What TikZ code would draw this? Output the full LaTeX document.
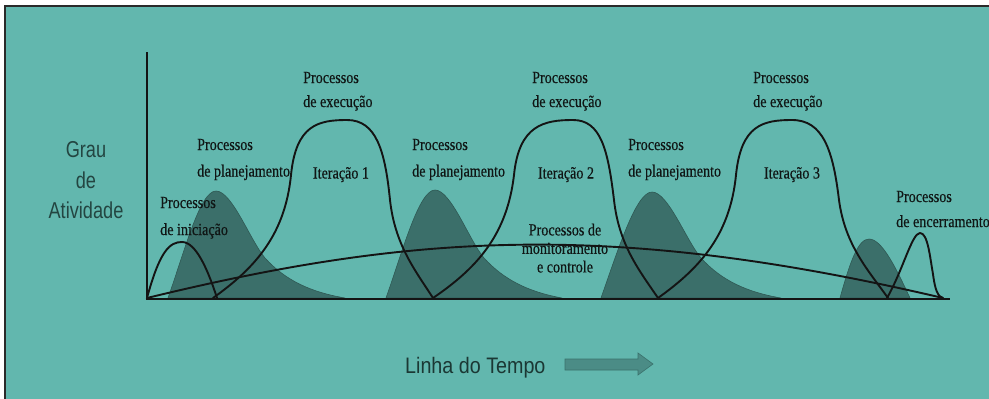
\documentclass[tikz,border=0pt]{standalone}
\usepackage{fontspec}
\setmainfont{Liberation Serif}
\newfontfamily\lblfont[FakeStretch=0.83,FakeBold=0.4]{Liberation Serif}
\newfontfamily\axfont[FakeStretch=0.79]{Liberation Sans}
\newfontfamily\tlfont[FakeStretch=0.88]{Liberation Sans}
\definecolor{bgteal}{HTML}{62B7AE}
\definecolor{humpcol}{HTML}{3B6F6A}
\definecolor{humpedge}{HTML}{2F5954}
\definecolor{framecol}{HTML}{2A2A2A}
\definecolor{txtcol}{HTML}{101615}
\definecolor{axtxt}{HTML}{234541}
\definecolor{tltxt}{HTML}{1B3834}
\definecolor{arrowcol}{HTML}{4B8C86}
\definecolor{arrowedge}{HTML}{3A716C}
\tikzset{
  hump/.style={fill=humpcol, draw=humpedge, line width=0.6pt},
  crv/.style={draw=black!92, line width=1.9pt, line join=round, line cap=round},
  axisline/.style={draw=black!92, line width=2.8pt},
  lbl/.style={font=\lblfont\fontsize{17}{24}\selectfont, text=txtcol, inner sep=0pt, align=left},
  axlbl/.style={font=\axfont\fontsize{23}{30.5}\selectfont, text=axtxt, inner sep=0pt, align=center},
  tllbl/.style={font=\tlfont\fontsize{22.4}{27}\selectfont, text=tltxt, inner sep=0pt}
}
\begin{document}
\begin{tikzpicture}[x=1pt,y=-1pt]
\useasboundingbox (0,0) rectangle (989,399);
\fill[white] (0,0) rectangle (989,399);
\fill[bgteal] (6,6) rectangle (989,399);
\draw[framecol, line width=2.5pt] (5,399) -- (5,6) -- (989,6);

% planning humps (filled)
\path[hump] (168,298) .. controls (185,250) and (200,191) .. (216,191)
  .. controls (232,191) and (250,240) .. (265,258)
  .. controls (285,280) and (310,292) .. (345,298) -- cycle;
\path[hump] (386,298) .. controls (403,250) and (419,190) .. (435,190)
  .. controls (451,190) and (469,240) .. (484,258)
  .. controls (504,280) and (529,292) .. (562,298) -- cycle;
\path[hump] (601,298) .. controls (618,250) and (636,192) .. (652,192)
  .. controls (668,192) and (686,240) .. (701,258)
  .. controls (721,280) and (746,292) .. (781,298) -- cycle;
\path[hump] (840,298) .. controls (850,262) and (858,239) .. (869,239)
  .. controls (882,239) and (896,268) .. (910,298) -- cycle;

% monitoring arc
\draw[crv] (147,298) .. controls (410,234) and (610,220) .. (943,298);

% initiation
\draw[crv] (147,298) .. controls (160,250) and (170,242) .. (182,242)
  .. controls (196,242) and (208,270) .. (217,298);

% execution 1
\draw[crv] (213,298) .. controls (255,268) and (285,235) .. (291,175)
  .. controls (296,125) and (318,120) .. (347,120)
  .. controls (376,120) and (385,150) .. (390,200)
  .. controls (395,245) and (415,270) .. (433,298);
% execution 2
\draw[crv] (433,298) .. controls (477,268) and (507,235) .. (514,175)
  .. controls (519,125) and (544,120) .. (573,120)
  .. controls (601,120) and (608,150) .. (614,200)
  .. controls (619,245) and (639,270) .. (658,298);
% execution 3
\draw[crv] (658,298) .. controls (700,268) and (730,235) .. (736,175)
  .. controls (741,125) and (763,120) .. (792,120)
  .. controls (823,120) and (833,150) .. (839,200)
  .. controls (845,245) and (868,270) .. (888,298);
% closing
\draw[crv] (887,298) .. controls (903,270) and (912,233) .. (920,233)
  .. controls (928,233) and (930,258) .. (933,274)
  .. controls (935,290) and (938,297) .. (943,298);

% axes
\draw[axisline] (147,52) -- (147,299);
\draw[axisline] (145.6,299) -- (950,299);

% labels
\node[lbl, anchor=north west] (exec1) at (303,71.7) {Processos\\de execução};
\node[lbl, anchor=north west] (exec2) at (532,71.7) {Processos\\de execução};
\node[lbl, anchor=north west] (exec3) at (753,71.7) {Processos\\de execução};
\node[lbl, anchor=north west, font=\lblfont\fontsize{17}{26.5}\selectfont] (plan1) at (197,138.7) {Processos\\de planejamento};
\node[lbl, anchor=north west, font=\lblfont\fontsize{17}{26.5}\selectfont] (plan2) at (412,138.7) {Processos\\de planejamento};
\node[lbl, anchor=north west, font=\lblfont\fontsize{17}{26.5}\selectfont] (plan3) at (628,138.7) {Processos\\de planejamento};
\node[lbl, anchor=north west, font=\lblfont\fontsize{17}{27}\selectfont] (init) at (160,196.7) {Processos\\de iniciação};
\node[lbl, anchor=north west, font=\lblfont\fontsize{17}{25}\selectfont] (close) at (896,190.7) {Processos\\de encerramento};
\node[lbl, anchor=base] (it1) at (341,178.5) {Iteração 1};
\node[lbl, anchor=base] (it2) at (566,178.5) {Iteração 2};
\node[lbl, anchor=base] (it3) at (792,178.5) {Iteração 3};
\node[lbl, align=center, anchor=north, font=\lblfont\fontsize{17}{18.5}\selectfont] (mon) at (565,223.4) {Processos de\\monitoramento\\e controle};

\node[axlbl, anchor=north] (grau) at (86,141.5) {Grau\\de\\Atividade};
\node[tllbl, anchor=base west] (tempo) at (405,373) {Linha do Tempo};
\draw[fill=arrowcol, draw=arrowedge, line width=0.6pt]
  (565,359) -- (638,359) -- (638,353) -- (653,364) -- (638,375) -- (638,370) -- (565,370) -- cycle;
\end{tikzpicture}
\end{document}
